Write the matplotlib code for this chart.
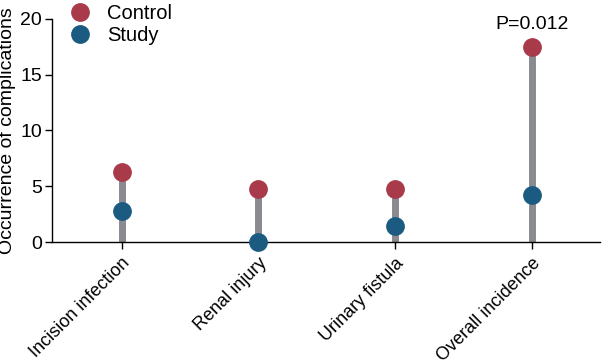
import matplotlib
matplotlib.use("Agg")
import matplotlib.pyplot as plt

categories = ["Incision infection", "Renal injury", "Urinary fistula", "Overall incidence"]
control = [6.3, 4.8, 4.8, 17.5]
study = [2.8, 0.0, 1.4, 4.2]
yticks = [0, 5, 10, 15, 20]

plt.rcParams['font.family'] = ['Liberation Sans', 'DejaVu Sans']

fig = plt.figure(figsize=(6.03, 3.64), dpi=100)
ax = fig.add_axes([0.086, 0.335, 0.909, 0.613])

x = list(range(len(categories)))
ax.vlines(x, 0, control, color="#8a8b90", lw=5, zorder=1)
ax.plot(x, control, 'o', color="#a83a4a", ms=12.5, zorder=3, label="Control", clip_on=False)
ax.plot(x, study, 'o', color="#1b5b82", ms=12.5, zorder=3, label="Study", clip_on=False)

ax.set_xlim(-0.51, 3.5)
ax.set_ylim(0, 20)
ax.set_yticks(yticks)
ax.set_xticks(x)
ax.set_xticklabels(categories, rotation=45, ha="right", rotation_mode="anchor", fontsize=13)
ax.tick_params(axis='y', labelsize=14, length=5, width=1, pad=2)
ax.tick_params(axis='x', length=5, width=1, pad=4)
ax.set_ylabel("Occurrence of complications", fontsize=14, labelpad=3)
for s in ["top", "right"]:
    ax.spines[s].set_visible(False)
ax.spines["left"].set_linewidth(1)
ax.spines["bottom"].set_linewidth(1)

ax.text(3, 18.7, "P=0.012", ha="center", va="bottom", fontsize=14)

leg = ax.legend(loc="upper left", bbox_to_anchor=(0.01, 1.105), frameon=False, fontsize=14.5,
                handletextpad=0.55, labelspacing=0.15, borderaxespad=0, handlelength=1.5)

fig.savefig("out.png", dpi=100)
